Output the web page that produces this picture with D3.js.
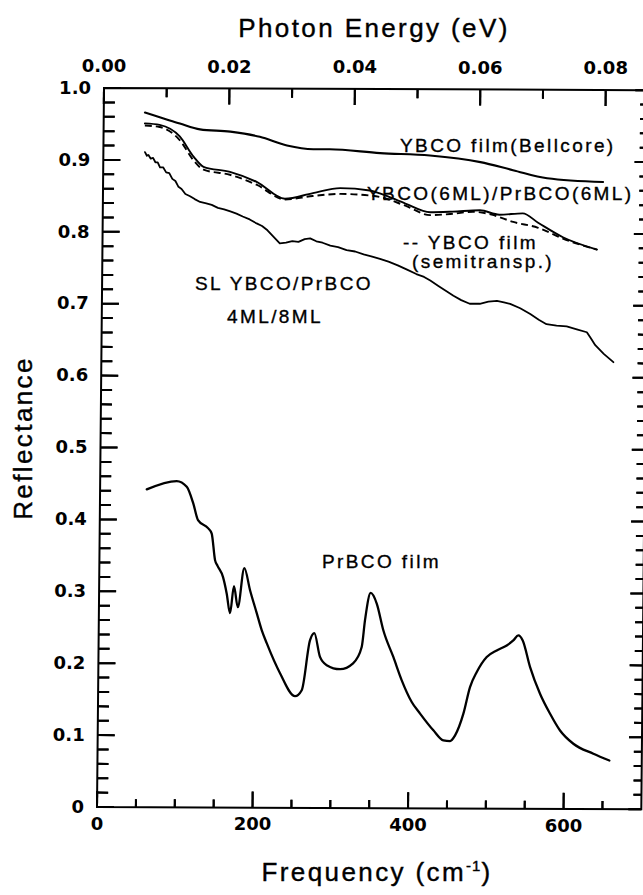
<!DOCTYPE html>
<html><head><meta charset="utf-8">
<script src="https://cdn.jsdelivr.net/npm/d3@7"></script>
<style>
html,body{margin:0;padding:0;background:#fff;}
svg{display:block;}
.tl{font-family:"DejaVu Sans";font-weight:bold;font-size:18px;fill:#000;}
.lbl{font-family:"Liberation Sans",Arial,sans-serif;font-size:19px;letter-spacing:2.4px;fill:#000;stroke:#000;stroke-width:0.35px;}
.title{font-family:"Liberation Sans",Arial,sans-serif;font-size:26px;letter-spacing:2.4px;fill:#000;stroke:#000;stroke-width:0.4px;}
</style></head><body>
<script>
// ---- data (frequency in cm^-1, reflectance) ----
const bellFreq = [53, 77, 98, 124, 163, 201, 236, 270, 291, 356, 420, 485, 527, 571, 643];
const bellR    = [0.966, 0.958, 0.951, 0.943, 0.940, 0.933, 0.921, 0.916, 0.916, 0.911, 0.908, 0.899, 0.888, 0.877, 0.872];

const sl6Freq = [53, 72, 98, 116, 129, 163, 198, 234, 270, 305, 343, 356, 389, 421, 450, 485, 510, 540, 560, 592, 636];
const sl6R    = [0.951, 0.949, 0.933, 0.905, 0.891, 0.884, 0.870, 0.847, 0.855, 0.862, 0.859, 0.855, 0.841, 0.829, 0.830, 0.832, 0.826, 0.828, 0.815, 0.795, 0.778];

const semiFreq = [53, 72, 98, 116, 129, 163, 198, 234, 270, 305, 343, 356, 389, 421, 450, 476, 500, 528, 560, 592, 636];
const semiR    = [0.948, 0.946, 0.928, 0.900, 0.887, 0.880, 0.866, 0.846, 0.851, 0.854, 0.852, 0.850, 0.838, 0.825, 0.827, 0.830, 0.826, 0.816, 0.808, 0.793, 0.778];

const sl4Freq = [53.5, 56, 58, 61, 64, 67, 70, 73, 77, 81, 85, 89, 93, 97, 101, 106, 112, 118, 125, 133, 140, 148, 156, 164, 172, 180, 189, 198, 205, 212, 220, 228, 236, 244, 252, 260, 267, 275, 283, 293, 303, 314, 325, 336, 347, 357, 368, 380, 392, 404, 414, 422, 432, 442, 452, 462, 473, 486, 497, 508, 517, 525, 538, 551, 562, 572, 585, 598, 611, 624, 629, 635, 646, 658.5];
const sl4R    = [0.911, 0.906, 0.907, 0.902, 0.903, 0.897, 0.897, 0.890, 0.890, 0.883, 0.882, 0.874, 0.871, 0.863, 0.860, 0.853, 0.850, 0.846, 0.842, 0.840, 0.838, 0.834, 0.832, 0.829, 0.826, 0.822, 0.818, 0.8125, 0.809, 0.803, 0.794, 0.785, 0.786, 0.788, 0.787, 0.791, 0.792, 0.788, 0.786, 0.782, 0.780, 0.776, 0.774, 0.770, 0.767, 0.764, 0.760, 0.755, 0.749, 0.743, 0.739, 0.734, 0.727, 0.720, 0.713, 0.707, 0.702, 0.702, 0.705, 0.706, 0.704, 0.702, 0.696, 0.688, 0.680, 0.674, 0.672, 0.671, 0.667, 0.663, 0.655, 0.645, 0.633, 0.6215];

const prFreq = [60, 98.4, 111.4, 120, 126.3, 139.3, 144.1, 148.7, 152, 159.2, 164.1, 168.6, 173.4, 178.5, 186.5, 194.1, 203, 209.6, 216.2, 233.7, 253.3, 261.8, 271.9, 277.3, 284.9, 293.6, 310.8, 327.5, 338.4, 342.4, 349.3, 357.2, 366, 379.2, 390.3, 403.4, 414.3, 431.6, 444.6, 453.2, 459.6, 470, 478.2, 486.7, 499.3, 512.1, 524.9, 533.3, 539.7, 545.4, 555.2, 568.3, 581.5, 594.5, 611.8, 637.7, 658.3];
const prR    = [0.442, 0.4537, 0.4459, 0.4228, 0.3996, 0.3885, 0.381, 0.344, 0.336, 0.3204, 0.2977, 0.2704, 0.308, 0.2787, 0.333, 0.3024, 0.2705, 0.2469, 0.2288, 0.1871, 0.1552, 0.1636, 0.2332, 0.2429, 0.21, 0.1985, 0.193, 0.2013, 0.224, 0.262, 0.2992, 0.2845, 0.2474, 0.2103, 0.1779, 0.1478, 0.1317, 0.1085, 0.0946, 0.0937, 0.1016, 0.1318, 0.1689, 0.1898, 0.2107, 0.22, 0.227, 0.234, 0.241, 0.234, 0.197, 0.16, 0.1322, 0.109, 0.0906, 0.0768, 0.0675];

const freqTicks = [0, 200, 400, 600];
const freqMinor = [50, 100, 150, 250, 300, 350, 450, 500, 550, 650];
const evTicks = [0, 0.02, 0.04, 0.06, 0.08];
const evMinor = [0.01, 0.03, 0.05, 0.07];
const rTicks = [0, 0.1, 0.2, 0.3, 0.4, 0.5, 0.6, 0.7, 0.8, 0.9, 1.0];
const rMinor = [0.02,0.04,0.06,0.08,0.12,0.14,0.16,0.18,0.22,0.24,0.26,0.28,0.32,0.34,0.36,0.38,0.42,0.44,0.46,0.48,0.52,0.54,0.56,0.58,0.62,0.64,0.66,0.68,0.72,0.74,0.76,0.78,0.82,0.84,0.86,0.88,0.92,0.94,0.96,0.98];
const CM_PER_EV = 8065.5;

// ---- layout ----
const W = 643, H = 895;
const svg = d3.select("body").append("svg").attr("width", W).attr("height", H);

const x = d3.scaleLinear().domain([0, 700]).range([97, 641.3]);
const xe = d3.scaleLinear().domain([0, 700 / CM_PER_EV]).range([0, 700]); // eV -> cm^-1
const y = d3.scaleLinear().domain([0, 1]).range([807, 88]);
const pxPerR = y(0) - y(1), pxPerF = x(1) - x(0);

// slight tilt of the scanned original, applied to scale output
const SKX = -0.00974, SKY = 0.004;
function P(f, r){
  const u = x(f), v = y(r);
  return [u + SKX * (v - y(0)), v + SKY * (u - x(0))];
}

const ink = svg.append("g");

// frame
ink.append("path").attr("fill", "none").attr("stroke", "#000").attr("stroke-width", 2)
  .attr("d", "M" + [P(0,0), P(700,0), P(700,1), P(0,1)].map(p => p.join(",")).join("L") + "Z");

// tick marks (inward), drawn as thin filled quads and as lines
function ticks(vals, from, to, vertical){
  vals.forEach(v => {
    const a = from(v), b = to(v);
    const ox = vertical ? 1 : 0, oy = vertical ? 0 : 1;
    const quad = [[a[0]-ox, a[1]-oy], [b[0]-ox, b[1]-oy], [b[0]+ox, b[1]+oy], [a[0]+ox, a[1]+oy]];
    ink.append("polygon").attr("points", quad.map(p => p.join(",")).join(" ")).attr("fill", "#000");
    ink.append("line").attr("x1", a[0]).attr("y1", a[1]).attr("x2", b[0]).attr("y2", b[1])
      .attr("stroke", "#000").attr("stroke-width", 2);
  });
}
ticks(freqTicks, v => P(v, 0), v => P(v, 16 / pxPerR), true);
ticks(freqMinor, v => P(v, 0), v => P(v, 8 / pxPerR), true);
ticks(evTicks, v => P(xe(v), 1), v => P(xe(v), 1 - 16 / pxPerR), true);
ticks(evMinor, v => P(xe(v), 1), v => P(xe(v), 1 - 9 / pxPerR), true);
ticks(rTicks, v => P(0, v), v => P(17 / pxPerF, v), false);
ticks(rMinor, v => P(0, v), v => P(11 / pxPerF, v), false);
ticks(rTicks, v => P(700, v), v => P(700 - 13 / pxPerF, v), false);
ticks(rMinor, v => P(700, v), v => P(700 - 8 / pxPerF, v), false);

// tick labels
const fmtF = d3.format("d"), fmtE = d3.format(".2f"), fmtR = d => d === 0 ? "0" : d3.format(".1f")(d);
ink.selectAll("text.bx").data(freqTicks).join("text").attr("class", "tl bx")
  .attr("x", d => P(d, 0)[0]).attr("y", d => P(d, 0)[1] + 10).attr("dy", "0.71em")
  .attr("text-anchor", "middle").text(fmtF);
ink.selectAll("text.tx").data(evTicks).join("text").attr("class", "tl tx")
  .attr("x", d => P(xe(d), 1)[0]).attr("y", d => P(xe(d), 1)[1] - 16)
  .attr("text-anchor", "middle").text(fmtE);
ink.selectAll("text.ly").data(rTicks).join("text").attr("class", "tl ly")
  .attr("x", d => P(0, d)[0] - 13).attr("y", d => P(0, d)[1]).attr("dy", "0.32em")
  .attr("text-anchor", "end").text(fmtR);

// ---- curves ----
function drawLine(fr, rr, w, dash, curve){
  const pts = fr.map((f, i) => P(f, rr[i]));
  const line = d3.line().curve(curve || d3.curveMonotoneX);
  const p = ink.append("path").datum(pts).attr("d", line).attr("fill", "none")
    .attr("stroke", "#000").attr("stroke-width", w).attr("stroke-linejoin", "round").attr("stroke-linecap", "round");
  if (dash) p.attr("stroke-dasharray", dash).attr("stroke-linecap", "butt");
}
drawLine(bellFreq, bellR, 2.1);
drawLine(semiFreq, semiR, 1.9, "7,4");
drawLine(sl6Freq, sl6R, 1.9);
drawLine(sl4Freq, sl4R, 1.8, null, d3.curveLinear);
drawLine(prFreq, prR, 2.3);

// ---- labels ----
function lbl(t, xx, yy){ svg.append("text").attr("class", "lbl").attr("x", xx).attr("y", yy).text(t); }
lbl("YBCO film(Bellcore)", 400, 152);
lbl("YBCO(6ML)/PrBCO(6ML)", 367, 200);
lbl("-- YBCO film", 403, 249);
lbl("(semitransp.)", 412, 268);
lbl("SL YBCO/PrBCO", 195, 290);
lbl("4ML/8ML", 227, 323);
lbl("PrBCO film", 322, 568);

svg.append("text").attr("class", "title").attr("x", 374).attr("y", 37).attr("text-anchor", "middle").text("Photon Energy (eV)");
const ft = svg.append("text").attr("class", "title").attr("x", 377).attr("y", 881).attr("text-anchor", "middle");
ft.append("tspan").text("Frequency (cm");
ft.append("tspan").attr("dy", -10).attr("font-size", 15).attr("letter-spacing", 1).text("-1");
ft.append("tspan").attr("dy", 10).text(")");
svg.append("text").attr("class", "title").attr("transform", "translate(32,438) rotate(-90)").attr("text-anchor", "middle").text("Reflectance");
</script>
</body></html>
